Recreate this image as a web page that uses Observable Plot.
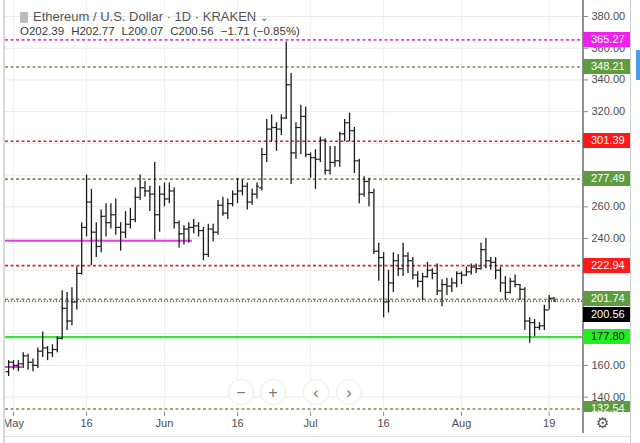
<!DOCTYPE html>
<html><head><meta charset="utf-8">
<script src="https://cdn.jsdelivr.net/npm/d3@7"></script>
<script src="https://cdn.jsdelivr.net/npm/@observablehq/plot@0.6"></script>
<style>
body{margin:0;background:#fff;font-family:"Liberation Sans",Arial,sans-serif;}
#wrap{position:relative;width:640px;height:443px;overflow:hidden;background:#fff;}
#wrap svg{position:absolute;left:0;top:0;}
.abs{position:absolute;}
.lbl{position:absolute;left:583px;width:47px;height:15px;line-height:15px;font-size:11px;color:#fff;padding-left:8px;box-sizing:border-box;}
.btn{position:absolute;width:26px;height:26px;border-radius:50%;border:1px solid #ececec;background:rgba(255,255,255,0.9);color:#777;font-size:16px;line-height:25px;text-align:center;box-sizing:border-box;}
</style></head><body><div id="wrap"></div>
<script>
// ---- data ----
const firstDate = "2019-04-30"; // consecutive daily bars
const opens  = [156,162,160,161,166,162,160,169,171,168,170,177,196,188,200,218,247,263,244,235,254,250,255,247,244,249,252,266,272,270,268,255,268,265,270,250,243,246,247,248,245,230,246,244,261,256,262,268,270,273,263,268,272,293,309,310,309,316,337,294,310,317,293,291,290,302,283,288,289,306,313,308,289,268,276,269,232,228,200,212,226,221,229,226,217,213,216,220,218,207,211,210,212,218,217,219,222,221,233,226,225,220,212,206,213,211,208,188,187,184,185,195,202.39];
const highs  = [163,163,163,168,167,164,171,181,172,173,178,207,206,209,222,250,280,271,250,258,262,262,265,250,257,259,272,280,276,273,288,273,275,275,272,251,248,250,252,250,247,249,249,264,266,265,270,278,277,275,271,275,297,315,318,313,318,364,344,313,324,323,294,296,304,303,298,298,307,315,319,310,290,279,278,271,237,231,220,231,230,237,231,228,219,218,225,221,224,214,215,215,219,219,222,224,224,237,240,228,228,222,216,215,217,211,209,190,189,187,198,204,202.77];
const lows   = [153,157,156,158,157,156,158,165,163,165,168,176,182,185,195,217,241,223,228,231,241,246,242,232,240,246,250,264,266,257,239,244,260,262,246,234,236,237,243,241,226,228,238,242,254,252,260,262,267,258,261,265,270,288,301,295,305,315,274,290,293,291,278,271,288,280,280,285,285,301,301,281,262,266,260,230,213,190,193,206,216,216,218,214,209,201,215,214,204,197,204,206,209,211,216,217,218,220,221,220,214,206,201,205,209,201,182,174,178,182,182,195,200.07];
const closes = [162,160,161,166,162,160,169,171,168,170,177,196,188,200,218,247,263,244,235,254,250,255,247,244,249,252,266,272,270,268,255,268,265,270,250,243,246,247,248,245,230,246,244,261,256,262,268,270,273,263,268,273,293,309,310,309,316,337,294,310,317,293,291,290,302,283,288,289,306,313,308,289,268,276,269,232,228,200,212,226,221,229,226,217,213,216,220,218,207,211,210,212,218,217,219,222,221,233,226,225,220,212,206,213,211,208,188,187,184,185,195,202.27,200.56];

const levelPrices = [365.27, 348.21, 301.39, 277.49, 222.94, 201.74, 177.80, 132.54];
const levelKinds  = ["magenta","green","red","green","red","green","lime","green"];
const currentPrice = 200.56;

const segPrices = [238.6, 159.0];
const segStarts = ["2019-04-29T00:00Z", "2019-04-29T00:00Z"];
const segEnds   = ["2019-06-06T18:00Z", "2019-05-02T20:00Z"];

const yTicks = [140,160,180,200,220,240,260,280,300,320,340,360,380];
const yTickLabelled = [140,160,240,260,320,340,360,380]; // others sit under the price boxes
const xTickDates  = ["2019-05-01","2019-05-16","2019-06-01","2019-06-16","2019-07-01","2019-07-16","2019-08-01","2019-08-19"];
const xTickLabels = ["May","16","Jun","16","Jul","16","Aug","19"];

// ---- build ----
const DAY = 864e5;
const t0 = new Date(firstDate + "T00:00Z").getTime();
const bars = opens.map((o,i)=>({date:new Date(t0+i*DAY), open:o, high:highs[i], low:lows[i], close:closes[i]}));
const levels = levelPrices.map((p,i)=>({price:p, kind:levelKinds[i]}));
const segs = segPrices.map((p,i)=>({price:p, x1:new Date(segStarts[i]), x2:new Date(segEnds[i])}));
const xTicks = xTickDates.map(d=>new Date(d+"T00:00Z"));
const labelOf = new Map(xTicks.map((d,i)=>[+d, xTickLabels[i]]));

const lineColor = {magenta:"#e23fe0", green:"#6b9c45", red:"#e0262a", lime:"#3ee23e"};
const boxColor  = {magenta:"#f020f0", green:"#5e9c40", red:"#ff1a1a", lime:"#22ee22"};
const boxText   = {magenta:"#fff", green:"#fff", red:"#fff", lime:"#111"};

const ink = "#1a1a1a";
const plot = Plot.plot({
  width: 640, height: 443,
  marginLeft: 5, marginRight: 57, marginTop: 0, marginBottom: 31,
  style: {fontFamily: '"Liberation Sans", Arial, sans-serif', fontSize: "11px", background: "transparent"},
  x: {type: "utc", domain: [new Date("2019-04-29T08:34Z"), new Date("2019-08-26T01:00Z")]},
  y: {domain: [130.3, 390.1]},
  marks: [
    Plot.gridY(yTicks, {stroke: "#e9e9e9", strokeOpacity: 1}),
    Plot.gridX(xTicks, {stroke: "#f1f1f1", strokeOpacity: 1}),
    Plot.ruleY(levels.filter(d=>d.kind!=="lime"), {y:"price", stroke:d=>lineColor[d.kind], strokeWidth:1.6, strokeDasharray:"3,2.5"}),
    Plot.ruleY(levels.filter(d=>d.kind==="lime"), {y:"price", stroke:d=>lineColor[d.kind], strokeWidth:2.2}),
    Plot.ruleY([currentPrice], {stroke:"#000", strokeWidth:1, strokeDasharray:"1,2"}),
    Plot.ruleY(segs, {y:"price", x1:"x1", x2:"x2", stroke:"#e23fe0", strokeWidth:2}),
    Plot.ruleX(bars, {x:"date", y1:"low", y2:"high", stroke:ink, strokeWidth:1.3}),
    Plot.ruleY(bars, {y:"open", x1:d=>new Date(+d.date-0.5*DAY), x2:"date", stroke:ink, strokeWidth:1.2}),
    Plot.ruleY(bars, {y:"close", x1:"date", x2:d=>new Date(+d.date+0.5*DAY), stroke:ink, strokeWidth:1.2}),
    Plot.axisY({anchor:"right", ticks:yTicks, tickFormat:d=>yTickLabelled.includes(d)?d.toFixed(2):"", tickSize:4, tickPadding:4, color:"#4d4d4d", stroke:"#8c8c8c", fontSize:11}),
    Plot.axisX({ticks:xTicks, tickFormat:d=>labelOf.get(+d), tickSize:4, tickPadding:3, color:"#4d4d4d", stroke:"#8c8c8c", fontSize:11})
  ]
});
const wrap = document.getElementById("wrap");
wrap.appendChild(plot);
const ys = plot.scale("y");

function div(cls, css, html){const e=document.createElement("div"); e.className=cls; e.style.cssText=css; if(html!=null) e.innerHTML=html; wrap.appendChild(e); return e;}

// frame pieces
div("abs","left:0;top:0;width:3px;height:443px;background:#fff;");
div("abs","left:3px;top:0;width:2px;height:443px;background:#d9d9d9;");
div("abs","left:582px;top:0;width:2px;height:433px;background:#909090;");
div("abs","left:630px;top:0;width:1px;height:443px;background:#d0d0d0;");
div("abs","left:636px;top:50px;width:4px;height:30px;background:#4b9be8;");
div("abs","left:5px;top:436px;width:625px;height:1px;background:#e2e2e2;");

// price label boxes (clipped to plot area)
const clip = div("abs","left:0;top:0;width:640px;height:412px;overflow:hidden;");
levels.forEach(l=>{
  const e=document.createElement("div"); e.className="lbl";
  e.style.top=(ys.apply(l.price)-7.5)+"px"; e.style.background=boxColor[l.kind]; e.style.color=boxText[l.kind];
  e.textContent=l.price.toFixed(2); clip.appendChild(e);
});
const ref = levels.find(l=>l.price===201.74);
const cur = document.createElement("div"); cur.className="lbl";
cur.style.top=Math.max(ys.apply(currentPrice)-7.5, ys.apply(ref.price)+8)+"px";
cur.style.background="#000"; cur.textContent=currentPrice.toFixed(2); clip.appendChild(cur);

// header
div("abs","left:20px;top:12px;width:8px;height:11px;background:#bdbdbd;");
div("abs","left:33px;top:9px;font-size:13px;color:#555;white-space:nowrap;","Ethereum / U.S. Dollar · 1D · KRAKEN <span style='font-size:10px'>&#8964;</span>");
const last = bars[bars.length-1], prev = bars[bars.length-2];
const chg = last.close - prev.close;
const pct = chg / prev.close * 100;
const sgn = v => (v<0?"−":"+") + Math.abs(v).toFixed(2);
div("abs","left:20px;top:25px;font-size:11.5px;color:#3a3a3a;white-space:nowrap;",
 `<span style="margin-right:7px">O${last.open.toFixed(2)}</span><span style="margin-right:7px">H${last.high.toFixed(2)}</span><span style="margin-right:7px">L${last.low.toFixed(2)}</span><span style="margin-right:7px">C${last.close.toFixed(2)}</span><span>${sgn(chg)} (${sgn(pct)}%)</span>`);

// zoom buttons
[["−",241],["+",273],["‹",316],["›",349]].forEach(([g,x])=>div("btn",`left:${x-13}px;top:379px;`,g));
div("abs","left:596px;top:414px;font-size:15px;color:#555;font-family:'DejaVu Sans';","⚙");
</script>
</body></html>
